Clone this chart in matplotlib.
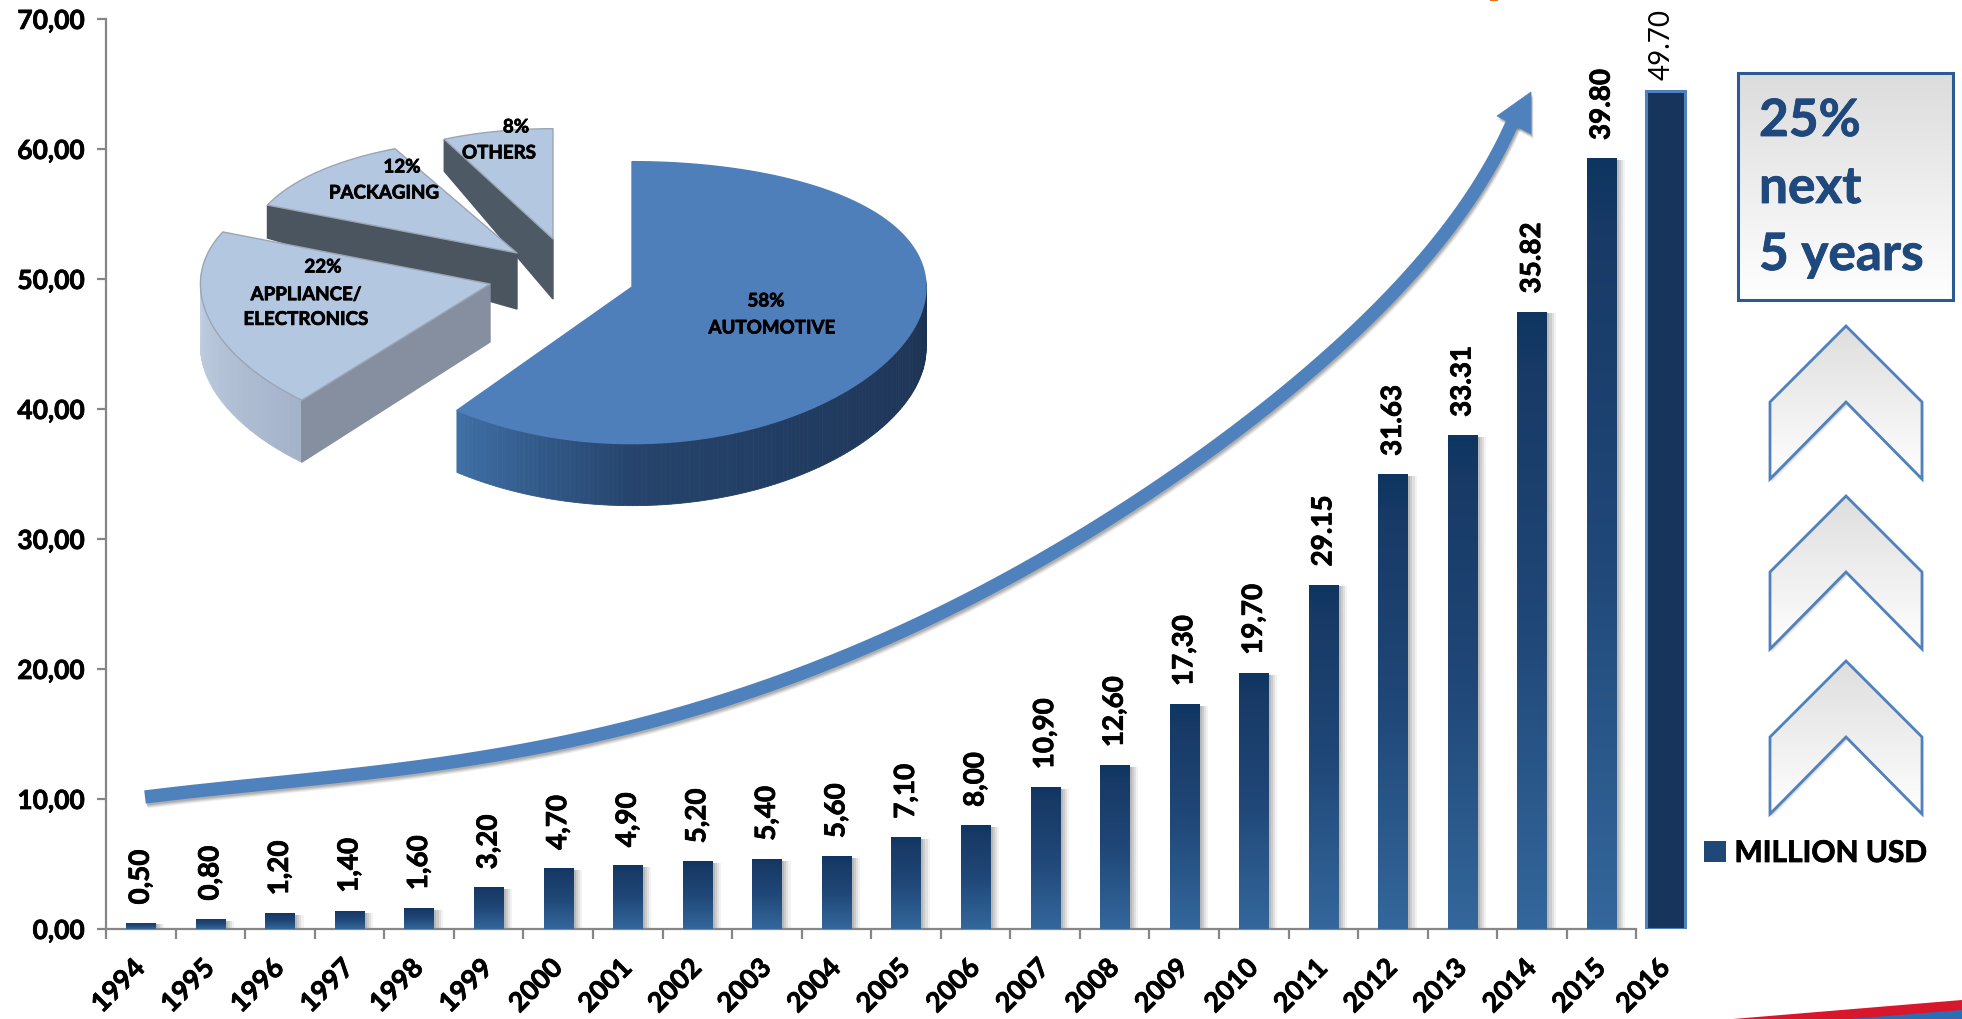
import numpy as np
import matplotlib
matplotlib.use("Agg")
import matplotlib.pyplot as plt
import matplotlib.patheffects as pe
from matplotlib.colors import LinearSegmentedColormap, to_rgb
from matplotlib.patches import Polygon, Rectangle

# ---------- data ----------
years = [str(y) for y in range(1994, 2016)]
bar_heights = [0.5, 0.8, 1.2, 1.4, 1.6, 3.2, 4.7, 4.9, 5.2, 5.4, 5.6, 7.1, 8.0, 10.9,
               12.6, 17.3, 19.7, 26.5, 35.0, 38.0, 47.5, 59.3]
bar_labels = ["0,50", "0,80", "1,20", "1,40", "1,60", "3,20", "4,70", "4,90", "5,20", "5,40",
              "5,60", "7,10", "8,00", "10,90", "12,60", "17,30", "19,70", "29.15", "31.63",
              "33.31", "35.82", "39.80"]
last_year = "2016"
last_height = 64.5
last_label = "49.70"
y_ticks = [0, 10, 20, 30, 40, 50, 60, 70]
y_tick_labels = ["0,00", "10,00", "20,00", "30,00", "40,00", "50,00", "60,00", "70,00"]
pie_names = ["AUTOMOTIVE", "APPLIANCE/\nELECTRONICS", "PACKAGING", "OTHERS"]
pie_shares = [58, 22, 12, 8]
legend_name = "MILLION USD"
callout = ["25%", "next", "5 years"]

plt.rcParams["font.family"] = ["Lato", "DejaVu Sans"]
W, H = 1962, 1020
fig = plt.figure(figsize=(W / 100, H / 100), dpi=100, facecolor="white")
HEAVY = [pe.withStroke(linewidth=0.55, foreground="black")]
HEAVY_BLUE = [pe.withStroke(linewidth=0.6, foreground="#1f497d")]

# ---------- main axes ----------
AX_L, AX_R, AX_B, AX_T = 106, 1706, 930, 20
ax = fig.add_axes([AX_L / W, 1 - AX_B / H, (AX_R - AX_L) / W, (AX_B - AX_T) / H])
GREY = "#868686"
ax.set_xlim(-0.5, 22.5)
ax.set_ylim(0, 70)
for s in ("top", "right"):
    ax.spines[s].set_visible(False)
for s in ("left", "bottom"):
    ax.spines[s].set_color(GREY)
    ax.spines[s].set_linewidth(1.6)
ax.spines["bottom"].set_bounds(-0.5, 21.5)

ax.set_yticks(y_ticks, y_tick_labels, fontsize=19, fontweight="bold", color="black",
              path_effects=HEAVY)
ax.tick_params(axis="y", length=6.5, width=1.6, color=GREY, pad=9)
ax.set_xticks(np.arange(-0.5, 22.0, 1.0), [""] * 23)
ax.tick_params(axis="x", which="major", length=7, width=1.6, color=GREY)
x_pos = np.arange(len(years))
last_x = len(years) - 0.08
ax.set_xticks(list(x_pos) + [last_x], minor=True)
ax.set_xticklabels(years + [last_year], minor=True, fontsize=19.5, fontweight="bold",
                   rotation=45, ha="right", va="center", rotation_mode="anchor",
                   path_effects=HEAVY)
ax.tick_params(axis="x", which="minor", length=0, pad=25)

BAR_W = 0.42
bar_cmap = LinearSegmentedColormap.from_list(
    "bar", [(0, "#0e3561"), (0.1, "#183a67"), (0.5, "#1f4777"), (1, "#34679c")])
grad = np.linspace(0, 1, 256).reshape(-1, 1)

bars = ax.bar(x_pos, bar_heights, BAR_W, color="#1f4777", zorder=3, label=legend_name)
for dx, a in zip((0.13, 0.10, 0.07, 0.04), (0.08, 0.12, 0.15, 0.18)):
    ax.bar(x_pos + dx, np.array(bar_heights) - 0.15, BAR_W, color="#606060", alpha=a,
           zorder=2, linewidth=0)
for b in bars:
    im = ax.imshow(grad, cmap=bar_cmap, aspect="auto", zorder=3.5,
                   extent=(b.get_x(), b.get_x() + b.get_width(), 0, b.get_height()))
    im.set_clip_path(b)

last_bar = ax.bar([last_x], [last_height], 0.57, color="#17355c", edgecolor="#4f81bd",
                  linewidth=2.2, zorder=4)[0]
ax.set_xlim(-0.5, 22.5)
ax.set_ylim(0, 70)

for x, h, t in zip(x_pos, bar_heights, bar_labels):
    ax.annotate(t, (x, h), xytext=(0, 13), textcoords="offset points", rotation=90,
                ha="center", va="bottom", fontsize=20, fontweight="bold", zorder=5,
                path_effects=HEAVY)
ax.annotate(last_label, (last_x, last_height), xytext=(-3, 8), textcoords="offset points",
            rotation=90, ha="center", va="bottom", fontsize=20, zorder=5)

ax.legend(handles=[bars[0]], labels=[legend_name], loc="lower left",
          bbox_to_anchor=(1704 / W, 1 - 868 / H), bbox_transform=fig.transFigure, frameon=False,
          prop={"weight": "bold", "size": 21.5}, handlelength=0.72, handleheight=0.72,
          handletextpad=0.3, borderpad=0, borderaxespad=0)
for t in ax.get_legend().get_texts():
    t.set_path_effects(HEAVY)

# ---------- overlay in pixel units ----------
ov = fig.add_axes([0, 0, 1, 1], zorder=10)
ov.set_xlim(0, W)
ov.set_ylim(H, 0)
ov.axis("off")
ov.patch.set_alpha(0)


def lerp(c1, c2, f):
    a, b = np.array(to_rgb(c1)), np.array(to_rgb(c2))
    return tuple(a + (b - a) * f)


def grad_poly(pts, c_top, c_bottom, edge=None, lw=1.5, z=5):
    p = Polygon(pts, closed=True, facecolor="none", edgecolor="none", zorder=z)
    ov.add_patch(p)
    pts = np.array(pts)
    cm = LinearSegmentedColormap.from_list("g", [c_top, c_bottom])
    im = ov.imshow(grad, cmap=cm, aspect="auto", zorder=z,
                   extent=(pts[:, 0].min(), pts[:, 0].max(), pts[:, 1].max(), pts[:, 1].min()))
    im.set_clip_path(p)
    if edge:
        ov.add_patch(Polygon(pts, closed=True, facecolor="none", edgecolor=edge, linewidth=lw,
                             zorder=z + 0.1, joinstyle="miter"))


# ----- exploded 3-D pie, angles from the shares -----
RX, RY, K = 294, 141, 0.111
cum = np.cumsum([0] + pie_shares) * 3.6


def to_view(theta):
    return -90 + theta + 8 * np.sin(np.radians(theta) / 2)


def rim(tip, t_deg, ry_scale=1.0, rx_scale=1.0):
    t = np.radians(t_deg)
    s = np.sin(t)
    return np.column_stack([tip[0] + rx_scale * RX * np.cos(t),
                            tip[1] + ry_scale * RY * s * (1 + K * s)])


def top_face(tip, a, b, ry_scale, rx_scale, face, edge):
    r = rim(tip, np.linspace(a, b, 120), ry_scale, rx_scale)
    ov.add_patch(Polygon(np.vstack([[tip], r]), closed=True, facecolor=face, edgecolor=edge,
                         linewidth=1.0, zorder=6, joinstyle="round"))
    return r


def wall(r, depth, c1, c2, z=5):
    n = len(r) - 1
    for i in range(n):
        q = [r[i], r[i + 1], r[i + 1] + [0, depth], r[i] + [0, depth]]
        c = lerp(c1, c2, i / max(n - 1, 1))
        ov.add_patch(Polygon(q, closed=True, facecolor=c, edgecolor=c, linewidth=0.6, zorder=z))


# others
tip = np.array([553, 240])
a, b = to_view(cum[3]), to_view(cum[4])
r = rim(tip, np.array([a]), 0.88, 0.82)[0]
ov.add_patch(Polygon([r, tip, tip + [0, 60], r + [0, 32]], closed=True, facecolor="#4d5964",
                     edgecolor="#4d5964", zorder=4))
top_face(tip, a, b, 0.88, 0.82, "#b4c7e0", "#9aa6b6")

# packaging
tip = np.array([517, 254])
a, b = to_view(cum[2]), to_view(cum[3])
r = rim(tip, np.array([a]), 0.92, 0.92)[0]
ov.add_patch(Polygon([r, tip, tip + [0, 56], r + [0, 33]], closed=True, facecolor="#4a5560",
                     edgecolor="#4a5560", zorder=5))
top_face(tip, a, b, 0.92, 0.92, "#b4c7e0", "#9aa6b6")

# appliance
tip = np.array([490, 285])
a, b = to_view(cum[1]) + 4, to_view(cum[2])
r0 = rim(tip, np.linspace(a, 184, 60), 1.0, 0.985)
wall(r0, 62, "#a4b3ca", "#c3d0e2", z=5.2)
ov.add_patch(Polygon([r0[0], tip, tip + [0, 58], r0[0] + [0, 62]], closed=True,
                     facecolor="#868fa0", edgecolor="#868fa0", zorder=5.3))
top_face(tip, a, b, 1.0, 0.985, "#b4c7e0", "#9aa6b6")

# automotive
tip = np.array([632, 288])
a, b = to_view(cum[0]), to_view(cum[1])
r0 = rim(tip, np.linspace(-4, b, 140))
n0 = len(r0)
wall(r0[: n0 // 2 + 30], 62, "#1c3151", "#25436b", z=5.4)
wall(r0[n0 // 2 + 29:], 62, "#25436b", "#3f6fa6", z=5.4)
top_face(tip, a, b, 1.0, 1.0, "#4f7fbb", "#4f7fbb")

share_xy = [(766, 302), (323, 268), (402, 168), (516, 128)]
name_xy = [(772, 329), (306, 308), (384, 194), (499, 154)]
for sxy, nxy, name, share in zip(share_xy, name_xy, pie_names, pie_shares):
    ov.text(*sxy, f"{share}%", ha="center", va="center", fontsize=13.5, fontweight="bold",
            color="black", zorder=8, path_effects=HEAVY)
    ov.text(*nxy, name, ha="center", va="center", fontsize=13.5, fontweight="bold",
            linespacing=1.55, color="black", zorder=8, multialignment="center",
            path_effects=HEAVY)

# ----- growth arrow -----
arrow_pts = np.array([(145, 798), (333, 778), (500, 755), (602, 735), (704, 708), (806, 672),
                      (908, 629), (1010, 580), (1163, 483), (1296, 385), (1367, 320),
                      (1417, 270), (1460, 213), (1490, 167), (1513, 123)], float)
seg = np.r_[0, np.cumsum(np.hypot(*np.diff(arrow_pts, axis=0).T))]
u = seg / seg[-1]
uu = np.linspace(0, 1, 300)
curve = np.column_stack([np.polyval(np.polyfit(u, arrow_pts[:, i], 6), uu) for i in (0, 1)])

BLUE = "#4f81bd"
head = np.array([(1531, 93), (1497, 117), (1531, 135)], float)
for d, al in ((5, 0.07), (4, 0.10), (3, 0.13), (2, 0.15)):
    ov.plot(curve[:, 0] + d * 0.5, curve[:, 1] + d, color="#303030", alpha=al, lw=9.4,
            solid_capstyle="butt", zorder=6.5)
    ov.add_patch(Polygon(head + [d * 0.5, d], closed=True, color="#303030", alpha=al,
                         linewidth=0, zorder=6.5))
ov.plot(curve[:, 0], curve[:, 1], color=BLUE, lw=9.6, solid_capstyle="butt", zorder=7)
ov.add_patch(Polygon(head, closed=True, facecolor=BLUE, edgecolor=BLUE, linewidth=0.5, zorder=7))

# ----- callout box -----
box = [(1738, 74), (1953, 74), (1953, 301), (1738, 301)]
grad_poly(box, "#dcdcdc", "#ffffff", edge="#2c5a92", lw=2.2)
for txt, base in zip(callout, (137, 204, 271)):
    ov.text(1759, base, txt, fontsize=37, fontweight="bold", color="#1f497d", ha="left",
            va="baseline", zorder=8, path_effects=HEAVY_BLUE)

# ----- chevrons -----
for top in (327, 497, 662):
    chev = np.array([(1846, top), (1922, top + 76), (1922, top + 153), (1846, top + 76),
                     (1770, top + 153), (1770, top + 76)], float)
    for d, al in ((4, 0.06), (3, 0.09), (2, 0.12)):
        ov.add_patch(Polygon(chev + [d * 0.4, d], closed=True, color="#404040", alpha=al,
                             linewidth=0, zorder=4))
    grad_poly(chev, "#dedede", "#ffffff", edge=BLUE, lw=2)

# ----- page decoration -----
ov.add_patch(Polygon([(1733, 1020), (1962, 1001), (1962, 1020)], closed=True,
                     facecolor="#d8162c", linewidth=0, zorder=3))
ov.add_patch(Polygon([(1850, 1020), (1962, 1011), (1962, 1020)], closed=True,
                     facecolor="#2a6fb5", linewidth=0, zorder=3.1))
ov.add_patch(Rectangle((1490, 0), 8, 1.6, facecolor="#f26a1b", linewidth=0, zorder=3))

ov.set_xlim(0, W)
ov.set_ylim(H, 0)
fig.savefig("out.png", dpi=100)
